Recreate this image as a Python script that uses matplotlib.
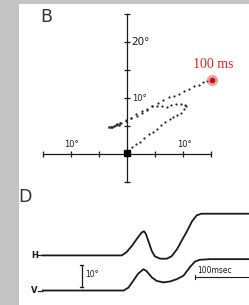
import numpy as np
import matplotlib
matplotlib.use("Agg")
import matplotlib.pyplot as plt

# panel B: eye position traces (deg)
lower_x = [0.3, 0.9, 1.6, 2.3, 3.1, 3.9, 4.6, 5.3, 6.1, 6.8, 7.6, 8.3, 9.0, 9.6, 10.1, 10.5]
lower_y = [0.6, 1.2, 1.7, 2.2, 2.9, 3.6, 4.0, 4.5, 5.2, 5.7, 6.2, 6.6, 7.0, 7.4, 8.0, 8.6]
middle_x = [10.4, 9.6, 8.8, 7.9, 7.1, 6.2, 5.4, 4.5, 3.5, 2.6, 1.6, 0.8, -0.2]
middle_y = [8.7, 9.0, 9.0, 8.7, 8.4, 8.5, 8.5, 8.6, 8.1, 7.6, 7.1, 6.5, 6.0]
cluster_x = [-3.2, -2.9, -2.6, -2.3, -2.0, -1.7, -1.5, -1.2]
cluster_y = [4.8, 4.9, 4.8, 5.0, 5.1, 5.3, 5.1, 5.5]
upper_x = [-1.0, -0.2, 0.8, 1.7, 2.6, 3.6, 4.5, 5.5, 6.4, 7.5, 8.4, 9.3, 10.2, 11.1, 12.0, 12.9, 13.6, 14.3]
upper_y = [5.5, 5.9, 6.4, 6.8, 7.3, 7.9, 8.5, 9.1, 9.7, 10.2, 10.4, 10.7, 11.25, 11.55, 12.1, 12.4, 12.9, 13.0]
end_point = (15.1, 13.3)
b_xticks = [-15, -10, -5, 0, 5, 10, 15]
b_yticks = [-5, 0, 5, 10, 15, 20, 25]

# panel D: H and V traces, time in ms, position in deg
h_t = [0, 133, 141, 150, 158, 166, 170, 173, 177, 183, 188, 197, 208, 216, 225, 233, 241, 250, 258, 266, 345]
h_deg = [0, 0, 1.5, 4.4, 7.5, 10.4, 11.0, 9.9, 6.8, 2.0, -0.4, -1.5, -1.5, -0.4, 2.8, 6.8, 10.7, 15.5, 18.3, 19.0, 19.0]
v_t = [0, 136, 144, 152, 160, 169, 174, 183, 191, 202, 213, 225, 236, 247, 255, 263, 280, 345]
v_deg = [0, 0, 1.3, 4.4, 7.6, 9.7, 8.9, 6.0, 4.4, 3.7, 4.1, 5.2, 6.8, 10.8, 13.2, 14.0, 14.3, 14.3]
v_offset = -16

W, H = 249, 305
fig = plt.figure(figsize=(W / 100, H / 100), dpi=100, facecolor="#c3c3c3")

ink = "#1a1a1a"

# ---- panel B
axb = fig.add_axes([19 / W, (H - 190) / H, 230 / W, 186 / H])
axb.set_facecolor("white")
axb.set_xlim(-19.29, 21.79)
axb.set_ylim(-6.43, 26.79)
for s in ["top", "right"]:
    axb.spines[s].set_visible(False)
axb.spines["left"].set_position(("data", 0))
axb.spines["bottom"].set_position(("data", 0))
axb.spines["left"].set_bounds(b_yticks[0], b_yticks[-1])
axb.spines["bottom"].set_bounds(b_xticks[0], b_xticks[-1])
for s in ["left", "bottom"]:
    axb.spines[s].set_color(ink)
    axb.spines[s].set_linewidth(0.9)
axb.set_xticks(b_xticks)
axb.set_yticks(b_yticks)
axb.tick_params(direction="inout", length=5, width=0.9, color=ink,
                labelbottom=False, labelleft=False)

dot_kw = dict(color="#2a2a2a", s=2.6, linewidths=0, zorder=3)
axb.scatter(lower_x, lower_y, **dot_kw)
axb.scatter(middle_x, middle_y, **dot_kw)
axb.scatter(upper_x, upper_y, **dot_kw)
axb.scatter(cluster_x, cluster_y, color="#2a2a2a", s=3.5, linewidths=0, zorder=3)
axb.plot(0, 0.1, "s", color="black", markersize=4, zorder=4)
axb.plot(*end_point, "o", color="#e8595b", alpha=0.6, markersize=8, mec="none", zorder=4)
axb.plot(*end_point, "o", color="#b81414", markersize=4, mec="none", zorder=5)
axb.text(end_point[0] + 0.3, end_point[1] + 1.6, "100 ms", color="#e8201e",
         family="Liberation Serif", fontsize=10, ha="center", va="bottom")

axb.text(-10, 0.9, "10°", fontsize=6, ha="center", va="bottom", color=ink)
axb.text(10.3, 0.9, "10°", fontsize=6, ha="center", va="bottom", color=ink)
axb.text(0.9, 10, "10°", fontsize=6, ha="left", va="center", color=ink)
axb.text(0.7, 20, "20°", fontsize=7.5, ha="left", va="center", color=ink)
axb.text(-14.5, 24.4, "B", fontsize=12.5, ha="center", va="center", color="#333333")

# ---- panel D
axd = fig.add_axes([19 / W, 0, 230 / W, 115 / H])
axd.set_facecolor("white")
axd.set_xlim(-38.3, 345)
axd.set_ylim(-22.6, 29.8)
for s in axd.spines.values():
    s.set_visible(False)
axd.set_xticks([])
axd.set_yticks([])

axd.plot(h_t, h_deg, color=ink, lw=1.3, solid_capstyle="butt")
axd.plot(v_t, np.array(v_deg) + v_offset, color=ink, lw=1.3, solid_capstyle="butt")
axd.plot([-6, 0], [0, 0], color=ink, lw=0.9)
axd.plot([-6, 0], [v_offset, v_offset], color=ink, lw=0.9)
axd.text(-7, 0, "H", fontsize=6, fontweight="bold", ha="right", va="center", color=ink)
axd.text(-7, v_offset, "V", fontsize=6, fontweight="bold", ha="right", va="center", color=ink)
axd.text(-28, 26.5, "D", fontsize=12.5, ha="center", va="center", color="#333333")

# 10 deg scale bar
axd.plot([66, 66], [-14.4, -4.4], color=ink, lw=0.9)
axd.plot([63.5, 68.5], [-4.4, -4.4], color=ink, lw=0.9)
axd.plot([63.5, 68.5], [-14.4, -14.4], color=ink, lw=0.9)
axd.text(72, -8.5, "10°", fontsize=5.5, ha="left", va="center", color=ink)

# 100 ms scale bar
axd.plot([255, 355], [-9.8, -9.8], color=ink, lw=0.8)
axd.plot([255, 255], [-10.8, -8.8], color=ink, lw=0.8)
axd.text(258, -7.0, "100msec", fontsize=5.5, ha="left", va="center", color=ink)

fig.savefig("out.png", dpi=100, facecolor=fig.get_facecolor())
